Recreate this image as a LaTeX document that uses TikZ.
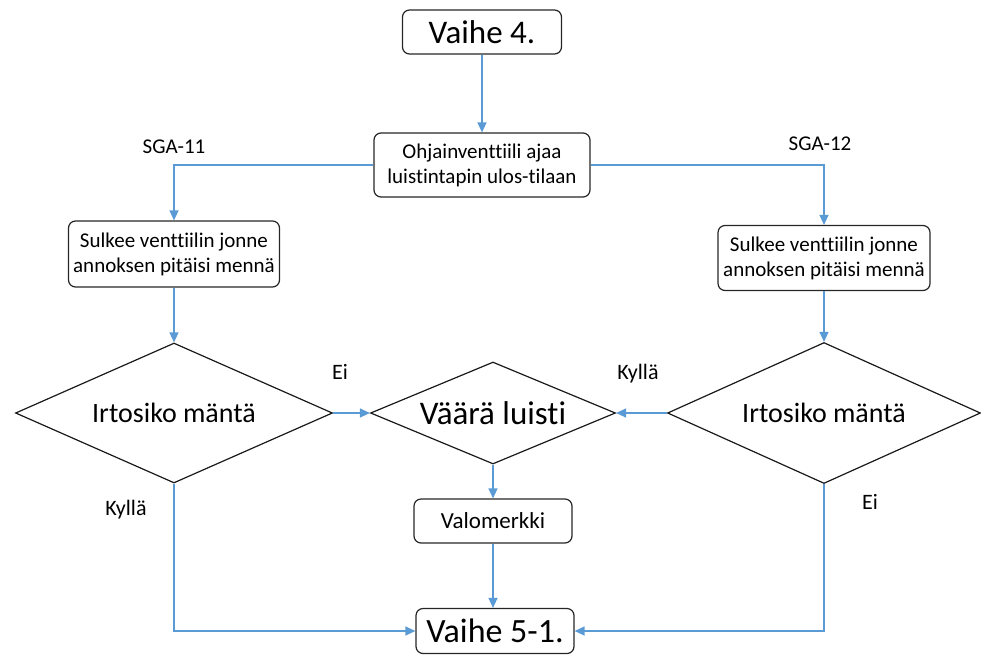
\documentclass[tikz,border=0pt]{standalone}
\usepackage{fontspec}
\setmainfont[Ligatures=NoCommon]{Carlito}
\usetikzlibrary{arrows.meta,shapes.geometric,positioning}

\definecolor{flowblue}{RGB}{91,155,213}

\begin{document}
\begin{tikzpicture}[
    x=1pt, y=-1pt,
    box/.style={draw=black!85, line width=1.2pt, rounded corners=7pt, align=center, inner sep=2pt, font=\fontsize{21}{25}\selectfont},
    bigbox/.style={box, font=\fontsize{33}{38}\selectfont},
    choice/.style={draw=black!90, line width=1.2pt, shape=diamond, inner sep=0pt, align=center, font=\fontsize{28}{32}\selectfont},
    lbl/.style={font=\fontsize{21}{25}\selectfont},
    arr/.style={-{Triangle[length=10pt, width=9pt]}, draw=flowblue, line width=1.3pt}
]
\useasboundingbox (0,0) rectangle (981,656);

\node[bigbox, minimum width=159pt, minimum height=44pt] (v4) at (482,32) {Vaihe 4.};
\node[box, minimum width=216pt, minimum height=64pt] (ohj) at (482,165) {Ohjainventtiili ajaa\\luistintapin ulos-tilaan};
\node[box, minimum width=211pt, minimum height=66pt] (sulk1) at (174,254) {Sulkee venttiilin jonne\\annoksen pitäisi mennä};
\node[box, minimum width=212pt, minimum height=65pt] (sulk2) at (824,258) {Sulkee venttiilin jonne\\annoksen pitäisi mennä};
\node[choice, aspect=2.26, minimum width=317pt, minimum height=140pt] (irt1) at (174,413) {Irtosiko mäntä};
\node[choice, aspect=2.23, minimum width=313pt, minimum height=141pt] (irt2) at (824,413) {Irtosiko mäntä};
\node[choice, aspect=2.4, minimum width=245pt, minimum height=102pt, font=\fontsize{33}{38}\selectfont] (vaara) at (493,413) {Väärä luisti};
\node[box, minimum width=158pt, minimum height=44pt, font=\fontsize{23}{27}\selectfont] (valo) at (493,521) {Valomerkki};
\node[bigbox, minimum width=158pt, minimum height=45pt, font=\fontsize{34}{38}\selectfont] (v51) at (495,631) {Vaihe 5-1.};

% haarojen tekstit
\node[lbl] (sga11) at (174,147) {SGA-11};
\node[lbl] (sga12) at (820,144) {SGA-12};
\node[lbl, font=\fontsize{22}{26}\selectfont] (ei1) at (340,372) {Ei};
\node[lbl, font=\fontsize{22}{26}\selectfont] (kylla1) at (638,374) {Kyllä};
\node[lbl, font=\fontsize{22}{26}\selectfont] (kylla2) at (126,510) {Kyllä};
\node[lbl, font=\fontsize{22}{26}\selectfont] (ei2) at (870,502) {Ei};

\draw[arr] (v4) -- (ohj);
\draw[arr] (ohj.west) -| (sulk1.north);
\draw[arr] (ohj.east) -| (sulk2.north);
\draw[arr] (sulk1) -- (irt1);
\draw[arr] (sulk2) -- (irt2);
\draw[arr] (irt1.east) -- (vaara.west);
\draw[arr] (irt2.west) -- (vaara.east);
\draw[arr] (vaara) -- (valo);
\draw[arr] (valo) -- (valo |- v51.north);
\draw[arr] (irt1.south) |- (v51.west);
\draw[arr] (irt2.south) |- (v51.east);
\end{tikzpicture}
\end{document}
